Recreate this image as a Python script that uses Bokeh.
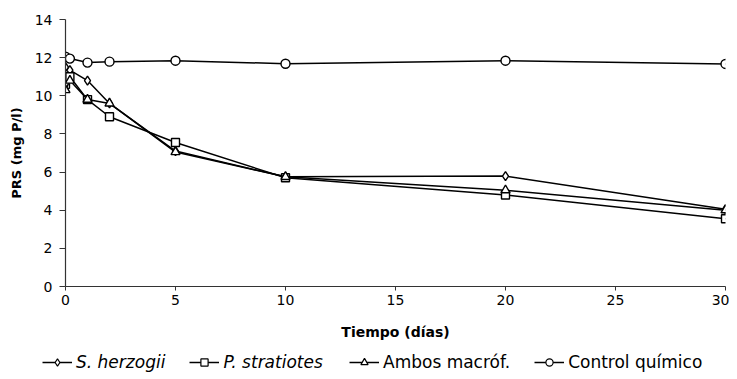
from bokeh.plotting import figure
from bokeh.models import Range1d, Legend, LegendItem, FixedTicker
from bokeh.embed import file_html
from bokeh.resources import INLINE

# Data
tiempo = [0, 0.2, 1, 2, 5, 10, 20, 30]
s_herzogii = [11.5, 11.35, 10.8, 9.6, 7.1, 5.75, 5.79, 4.05]
p_stratiotes = [10.6, 11.0, 9.8, 8.9, 7.55, 5.7, 4.8, 3.55]
ambos_macrof = [10.3, 10.8, 9.8, 9.6, 7.05, 5.75, 5.05, 4.0]
control_quimico = [12.05, 11.95, 11.74, 11.79, 11.84, 11.68, 11.84, 11.67]
x_ticks = [0, 5, 10, 15, 20, 25, 30]
y_ticks = [0, 2, 4, 6, 8, 10, 12, 14]

FONT = "DejaVu Sans"
W = 729

p = figure(width=W, height=350, output_backend="svg", toolbar_location=None,
           x_range=Range1d(0, 30), y_range=Range1d(0, 14),
           min_border_left=65, min_border_right=4, min_border_top=19,
           min_border_bottom=64)
p.outline_line_color = None
p.xgrid.visible = False
p.ygrid.visible = False
p.background_fill_color = "white"
p.border_fill_color = "white"

for ax in (p.xaxis[0], p.yaxis[0]):
    ax.major_label_text_font = FONT
    ax.major_label_text_font_size = "14px"
    ax.major_label_text_color = "black"
    ax.axis_label_text_font = FONT
    ax.axis_label_text_font_size = "13px"
    ax.axis_label_text_font_style = "bold"
    ax.axis_label_text_color = "black"
    ax.axis_line_color = "#333333"
    ax.axis_line_width = 1.2
    ax.major_tick_line_color = "#333333"
    ax.major_tick_in = 0
    ax.minor_tick_line_color = None

p.xaxis.ticker = FixedTicker(ticks=x_ticks)
p.yaxis.ticker = FixedTicker(ticks=y_ticks)
p.xaxis.axis_label = "Tiempo (días)"
p.yaxis.axis_label = "PRS (mg P/l)"
p.xaxis.axis_label_text_font_size = "14px"
p.xaxis.major_tick_out = 4
p.yaxis.major_tick_out = 6
p.xaxis.major_label_standoff = 4
p.xaxis.axis_label_standoff = 16
p.yaxis.major_label_standoff = 7
p.yaxis.axis_label_standoff = 8

series = [
    ("S. herzogii", s_herzogii, "diamond", 9),
    ("P. stratiotes", p_stratiotes, "square", 8),
    ("Ambos macróf.", ambos_macrof, "triangle", 9),
    ("Control químico", control_quimico, "circle", 9),
]

for name, vals, marker, size in series:
    p.line(tiempo, vals, line_color="black", line_width=1.5)
    p.scatter(tiempo, vals, marker=marker, size=size, fill_color="white",
              line_color="black", line_width=1.4)

# Legend strip below the chart (no axes, frame spans the whole strip)
lg_fig = figure(width=W, height=24, output_backend="svg", toolbar_location=None,
                x_range=Range1d(0, 1), y_range=Range1d(0, 1),
                x_axis_location=None, y_axis_location=None,
                min_border_left=0, min_border_right=0, min_border_top=0,
                min_border_bottom=0)
lg_fig.grid.visible = False
lg_fig.outline_line_color = None
lg_fig.background_fill_color = "white"
lg_fig.border_fill_color = "white"

# off-screen proxy renderers, only used to draw the legend swatches
items = []
for name, vals, marker, size in series:
    ln = lg_fig.line([-10, -9], [-10, -10], line_color="black", line_width=1.5)
    sc = lg_fig.scatter([-10], [-10], marker=marker, size=6, fill_color="white",
                        line_color="black", line_width=1.2)
    items.append(LegendItem(label=name, renderers=[ln, sc]))

def make_legend(its, style, loc):
    return Legend(items=its, orientation="horizontal", location=loc,
                  label_text_font=FONT, label_text_font_size="17px",
                  label_text_font_style=style, label_text_color="black",
                  glyph_width=30, glyph_height=18, label_standoff=4, spacing=24,
                  padding=0, margin=0, border_line_color=None,
                  background_fill_alpha=0)

lg_fig.add_layout(make_legend(items[:2], "italic", (42, 2)), "center")
lg_fig.add_layout(make_legend(items[2:], "normal", (349, 2)), "center")

open("out.html", "w").write(file_html([p, lg_fig], INLINE))
